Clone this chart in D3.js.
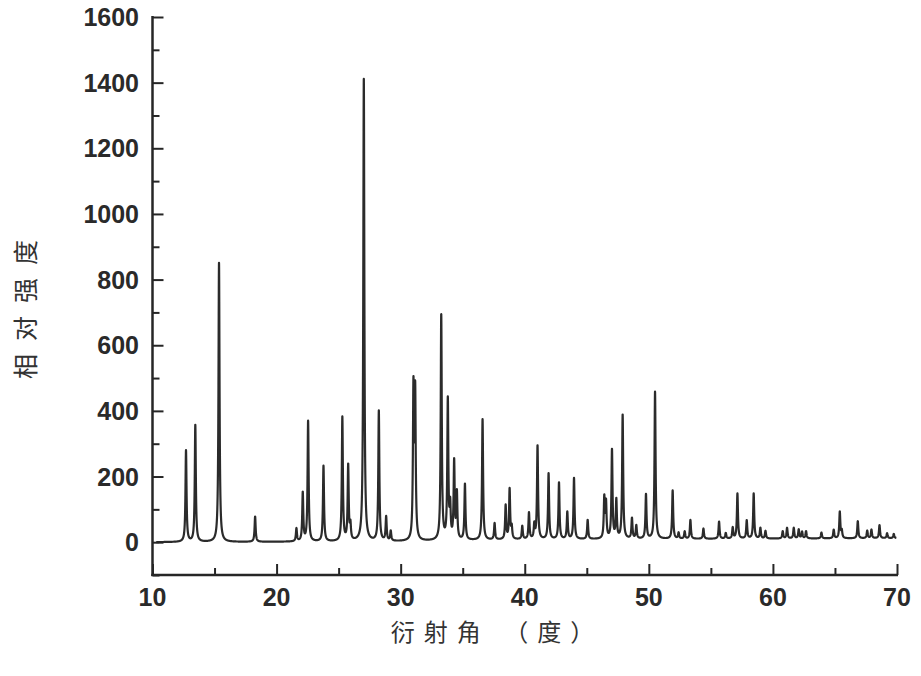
<!DOCTYPE html>
<html><head><meta charset="utf-8">
<script src="https://cdn.jsdelivr.net/npm/d3@7"></script>
<style>
html,body{margin:0;padding:0;background:#fff;}
svg{display:block;}
</style></head>
<body><svg id="chart" width="921" height="676"></svg>
<script>
// Peak positions (2θ, degrees) and intensities
const peakPos = [12.70,13.45,15.36,18.27,21.60,22.11,22.54,23.78,25.30,25.77,25.95,27.03,28.24,28.83,29.20,
 31.03,31.17,33.27,33.80,33.99,34.31,34.53,35.18,36.60,37.57,38.46,38.78,38.95,39.80,40.34,40.77,41.03,41.92,42.76,43.43,43.97,
 45.07,46.41,46.55,47.03,47.38,47.89,48.64,48.99,49.77,50.50,51.92,52.40,52.89,53.35,54.40,55.66,56.20,56.76,57.14,57.89,58.45,
 58.99,59.40,60.79,61.14,61.68,62.08,62.35,62.67,63.91,64.90,65.39,65.55,66.84,67.60,67.94,68.59,69.20,69.74];
const peakInt = [278,356,850,77,39,147,366,230,377,228,45,1410,396,73,30,
 452,437,686,424,95,236,140,170,368,50,103,152,35,40,80,43,284,200,172,82,186,
 58,122,106,270,116,377,62,40,135,448,147,18,22,57,31,52,17,33,137,55,137,
 32,23,22,32,32,27,20,22,18,26,80,22,52,23,26,40,15,13];
// Background level read along the baseline
const bgX = [10,30,40,55,70];
const bgY = [0,2,8,10,12];
const xTicks = [10,20,30,40,50,60,70];
const yTicks = [0,200,400,600,800,1000,1200,1400,1600];

const svg = d3.select("#chart");
const x = d3.scaleLinear().domain([10,70]).range([152.5,897]);
const y = d3.scaleLinear().domain([-100,1600]).range([575,17]);
const bg = d3.scaleLinear().domain(bgX).range(bgY);

const hw = 0.05;
const xs = d3.range(10.3, 69.95, 0.004);
const profile = xs.map(t => {
  let v = bg(t);
  for (let i=0;i<peakPos.length;i++){
    const d = t-peakPos[i];
    v += peakInt[i]*hw*hw/(hw*hw+d*d);
  }
  return [t,v];
});

svg.append("path").datum(profile)
  .attr("fill","none").attr("stroke","#2b2b2b").attr("stroke-width",2.2)
  .attr("stroke-linejoin","round")
  .attr("d", d3.line().x(d=>x(d[0])).y(d=>y(d[1])));

const axisColor = "#262626";
// Y axis
const yAxis = svg.append("g").attr("transform","translate(152.5,0)");
yAxis.call(d3.axisRight(y).tickValues(d3.range(-100,1601,100)).tickSize(7).tickFormat(""));
yAxis.selectAll(".tick line").attr("stroke",axisColor).attr("stroke-width",2)
  .attr("x2", d => d%200===0 ? 11 : 7);
yAxis.select(".domain").remove();
svg.append("line").attr("x1",152.5).attr("x2",152.5).attr("y1",y(1600)-1).attr("y2",y(-100)+1)
  .attr("stroke",axisColor).attr("stroke-width",2.5);
svg.selectAll(".ylab").data(yTicks).enter().append("text")
  .attr("x",139).attr("y",d=>y(d)).attr("dy","0.36em")
  .attr("text-anchor","end").attr("font-family","Liberation Sans, Arial, sans-serif")
  .attr("font-weight","bold").attr("font-size",25).attr("fill","#2a2a2a")
  .text(d=>d);

// X axis
const xAxis = svg.append("g").attr("transform","translate(0,575)");
xAxis.call(d3.axisTop(x).tickValues(d3.range(10,70.1,5)).tickSize(7).tickFormat(""));
xAxis.selectAll(".tick line").attr("stroke",axisColor).attr("stroke-width",2)
  .attr("y2", d => d%10===0 ? -11 : -7);
xAxis.select(".domain").remove();
svg.append("line").attr("x1",151.25).attr("x2",x(70)+1).attr("y1",575).attr("y2",575)
  .attr("stroke",axisColor).attr("stroke-width",2.5);
svg.selectAll(".xlab").data(xTicks).enter().append("text")
  .attr("x",d=>x(d)).attr("y",606)
  .attr("text-anchor","middle").attr("font-family","Liberation Sans, Arial, sans-serif")
  .attr("font-weight","bold").attr("font-size",25).attr("fill","#2a2a2a")
  .text(d=>d);

// Titles
svg.append("text").attr("transform","translate(35,303) rotate(-90)")
  .attr("text-anchor","middle").attr("font-family","Noto Sans CJK SC, sans-serif")
  .attr("font-size",25).attr("letter-spacing",13).attr("fill","#333")
  .text("相对强度");
svg.append("text").attr("x",497).attr("y",641)
  .attr("text-anchor","middle").attr("font-family","Noto Sans CJK SC, sans-serif")
  .attr("font-size",24).attr("letter-spacing",9).attr("fill","#333")
  .text("衍射角 （度）");
</script></body></html>
